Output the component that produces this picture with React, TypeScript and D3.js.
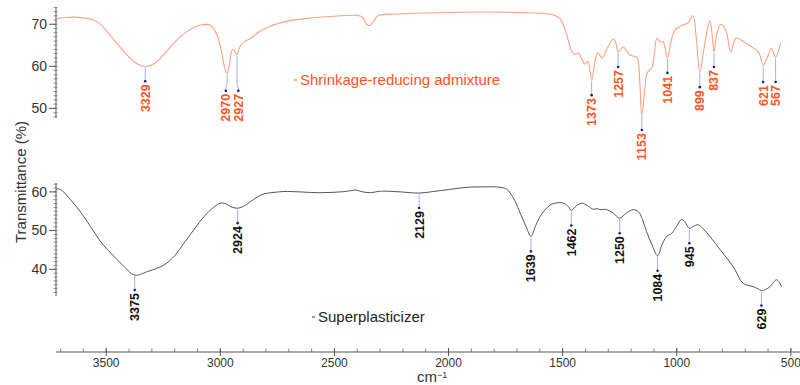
import React from 'react';
import * as d3 from 'd3';

// FTIR spectra: [wavenumber (cm-1), transmittance (%)]
const admixtureSpectrum: [number, number][] = [
  [3720, 71.3], [3680, 71.6], [3640, 71.7], [3600, 71.5], [3565, 71.2], [3530, 70.2],
  [3480, 67.2], [3440, 64.6], [3407, 62.6], [3370, 60.8], [3329, 60.0], [3290, 60.6],
  [3232, 63.8], [3190, 66.3], [3145, 68.3], [3086, 69.8], [3045, 69.8], [3015, 67.5],
  [2995, 63.5], [2980, 59.5], [2970, 58.2], [2960, 60.5], [2950, 63.6], [2942, 64.0],
  [2934, 63.3], [2927, 62.8], [2915, 64.6], [2895, 65.8], [2868, 66.6], [2830, 68.2],
  [2780, 69.6], [2700, 70.8], [2600, 71.5], [2500, 71.9], [2400, 72.1], [2375, 71.6],
  [2360, 70.0], [2345, 69.7], [2330, 70.6], [2310, 72.0], [2250, 72.4], [2150, 72.6],
  [2000, 72.8], [1850, 72.9], [1700, 72.8], [1600, 72.6], [1540, 72.2], [1511, 71.3],
  [1485, 68.0], [1459, 63.4], [1446, 62.8], [1432, 63.2], [1415, 61.6], [1402, 60.5],
  [1389, 61.2], [1373, 56.7], [1357, 61.5], [1345, 63.2], [1327, 62.0], [1300, 64.8],
  [1279, 66.5], [1268, 65.8], [1257, 63.4], [1235, 64.6], [1205, 62.7], [1174, 62.0],
  [1163, 57.0], [1153, 48.4], [1140, 54.5], [1130, 58.4], [1108, 59.8], [1087, 66.7],
  [1073, 65.8], [1060, 65.8], [1041, 62.0], [1025, 66.0], [1008, 68.6], [973, 69.8],
  [951, 70.3], [929, 72.0], [915, 67.0], [899, 58.6], [880, 64.5], [855, 70.8],
  [845, 67.5], [837, 63.4], [825, 67.5], [807, 70.0], [785, 68.6], [763, 63.4],
  [741, 66.7], [697, 65.5], [660, 64.2], [640, 63.2], [621, 60.3], [600, 62.5],
  [586, 64.3], [567, 62.2], [545, 65.5],
];

const superplasticizerSpectrum: [number, number][] = [
  [3720, 60.8], [3700, 60.6], [3655, 57.9], [3610, 54.6], [3568, 51.0], [3520, 46.8],
  [3480, 44.2], [3430, 41.2], [3375, 38.5], [3320, 39.4], [3247, 41.1], [3200, 43.5],
  [3160, 46.7], [3115, 50.3], [3072, 53.6], [3030, 56.0], [2999, 57.1], [2975, 56.9],
  [2955, 56.2], [2924, 55.8], [2895, 56.4], [2868, 57.5], [2840, 58.6], [2809, 59.5],
  [2760, 59.9], [2722, 60.1], [2650, 60.0], [2576, 59.8], [2474, 60.0], [2430, 60.3],
  [2408, 60.5], [2375, 60.0], [2342, 59.8], [2310, 60.1], [2286, 60.2], [2211, 60.0],
  [2129, 59.7], [2067, 60.1], [2000, 60.6], [1919, 61.2], [1850, 61.3], [1774, 61.2],
  [1745, 60.7], [1730, 59.7], [1710, 57.8], [1686, 54.5], [1660, 51.0], [1639, 48.5],
  [1620, 51.0], [1599, 53.6], [1555, 56.6], [1520, 57.2], [1496, 57.1], [1475, 56.2],
  [1462, 55.2], [1440, 56.4], [1416, 57.1], [1390, 56.4], [1365, 55.5], [1350, 55.7],
  [1336, 55.4], [1314, 55.5], [1280, 54.6], [1250, 53.2], [1220, 54.6], [1190, 55.4],
  [1168, 54.9], [1150, 52.8], [1132, 49.7], [1110, 46.5], [1084, 43.5], [1065, 46.3],
  [1044, 48.5], [1022, 49.3], [1000, 51.2], [979, 52.9], [965, 52.3], [957, 51.5],
  [945, 50.6], [930, 51.0], [906, 51.5], [880, 50.2], [855, 48.5], [805, 44.7],
  [753, 40.7], [709, 36.4], [665, 35.5], [645, 35.0], [629, 34.5], [610, 34.8],
  [592, 35.5], [563, 37.3], [550, 36.6], [541, 35.5],
];

const admixturePeaks = [3329, 2970, 2927, 1373, 1257, 1153, 1041, 899, 837, 621, 567];
const superplasticizerPeaks = [3375, 2924, 2129, 1639, 1462, 1250, 1084, 945, 629];

const xTickValues = [3500, 3000, 2500, 2000, 1500, 1000, 500];
const admixtureYTicks = [50, 60, 70];
const superplasticizerYTicks = [40, 50, 60];

const FONT = '"Liberation Sans", Arial, Helvetica, sans-serif';
const ORANGE_LINE = '#f8a286';
const ORANGE_TEXT = '#ff5424';
const GRAY_LINE = '#555555';
const LEADER = '#a9ade8';
const DOT = '#1b2180';

const W = 800;
const H = 385;
const LEFT = 56;
const AXIS_Y = 352;
const MIN_LABEL_GAP = 12.5;

const x = d3.scaleLinear().domain([3720, 460]).range([LEFT, W]);
const yTop = d3.scaleLinear().domain([47.7, 74.1]).range([118, 7]);
const yBottom = d3.scaleLinear().domain([33.1, 62.3]).range([296, 183]);

type Label = { w: number; px: number; py: number; lx: number; dotY: number };

// Peak markers: leader line down from the minimum to a dot, rotated wavenumber under it.
// Close neighbours share the lower dot level and are nudged apart horizontally.
function peakLabels(peaks: number[], data: [number, number][], y: d3.ScaleLinear<number, number>): Label[] {
  const pts = peaks.map((w) => {
    const d = data.find((p) => p[0] === w)!;
    return { w, px: x(w), py: y(d[1]) };
  });
  return pts.map((p) => {
    const group = pts.filter((q) => Math.abs(q.w - p.w) < 60).sort((a, b) => a.px - b.px);
    const level = d3.max(group, (q) => q.py) as number;
    let lx = p.px;
    if (group.length > 1) {
      const span = group[group.length - 1].px - group[0].px;
      if (span < MIN_LABEL_GAP * (group.length - 1)) {
        const centre = (group[0].px + group[group.length - 1].px) / 2;
        const i = group.indexOf(p);
        lx = centre + (i - (group.length - 1) / 2) * MIN_LABEL_GAP;
      }
    }
    return { ...p, lx, dotY: level + (group.length > 1 ? 17 : 15) };
  });
}

function YAxis({ y, ticks, domain }: { y: d3.ScaleLinear<number, number>; ticks: number[]; domain: [number, number] }) {
  const minor = d3.range(Math.ceil(domain[0]), Math.floor(domain[1]) + 1);
  return (
    <g>
      <line x1={LEFT} x2={LEFT} y1={y(domain[0])} y2={y(domain[1])} stroke="#555" strokeWidth={1} />
      {minor.map((v) => (
        <line key={'m' + v} x1={LEFT - 2.5} x2={LEFT + 1.5} y1={y(v)} y2={y(v)} stroke="#777" strokeWidth={0.8} />
      ))}
      {ticks.map((v) => (
        <g key={v}>
          <line x1={LEFT - 7} x2={LEFT} y1={y(v)} y2={y(v)} stroke="#555" strokeWidth={1} />
          <text x={LEFT - 9} y={y(v)} dy="0.35em" textAnchor="end" fontSize={14} fill="#333" fontFamily={FONT}>
            {v}
          </text>
        </g>
      ))}
    </g>
  );
}

function Peaks({ labels, color }: { labels: Label[]; color: string }) {
  return (
    <g>
      {labels.map((l) => {
        const leader =
          l.lx === l.px
            ? `M${l.px},${l.py + 1}V${l.dotY}`
            : `M${l.px},${l.py + 1}V${l.dotY - 7}L${l.lx},${l.dotY - 3}V${l.dotY}`;
        return (
          <g key={l.w}>
            <path d={leader} fill="none" stroke={LEADER} strokeWidth={1} />
            <circle cx={l.lx} cy={l.dotY} r={1.3} fill={DOT} />
            <text
              transform={`translate(${l.lx},${l.dotY + 3}) rotate(-90)`}
              dy="0.36em"
              textAnchor="end"
              fontSize={12.5}
              fontWeight="bold"
              fill={color}
              fontFamily={FONT}
            >
              {l.w}
            </text>
          </g>
        );
      })}
    </g>
  );
}

export default function App() {
  const lineTop = d3
    .line<[number, number]>()
    .x((d) => x(d[0]))
    .y((d) => yTop(d[1]))
    .curve(d3.curveCatmullRom.alpha(0.5));
  const lineBottom = d3
    .line<[number, number]>()
    .x((d) => x(d[0]))
    .y((d) => yBottom(d[1]))
    .curve(d3.curveCatmullRom.alpha(0.5));

  const topLabels = peakLabels(admixturePeaks, admixtureSpectrum, yTop);
  const bottomLabels = peakLabels(superplasticizerPeaks, superplasticizerSpectrum, yBottom);

  const minorX = d3.range(3700, 499, -100);

  return (
    <svg
      width={W}
      height={H}
      viewBox={`0 0 ${W} ${H}`}
      style={{ position: 'absolute', left: 0, top: 0, background: '#fff' }}
      fontFamily={FONT}
    >
      <rect width={W} height={H} fill="#fff" />

      {/* y axes */}
      <YAxis y={yTop} ticks={admixtureYTicks} domain={[47.7, 74.1]} />
      <YAxis y={yBottom} ticks={superplasticizerYTicks} domain={[33.1, 62.3]} />

      <text
        transform={`translate(26,182) rotate(-90)`}
        textAnchor="middle"
        fontSize={15}
        fill="#333"
        fontFamily={FONT}
      >
        Transmittance (%)
      </text>

      {/* x axis */}
      <line x1={LEFT} x2={W} y1={AXIS_Y} y2={AXIS_Y} stroke="#555" strokeWidth={1} />
      {minorX.map((w) => (
        <line key={'xm' + w} x1={x(w)} x2={x(w)} y1={AXIS_Y - 3.5} y2={AXIS_Y} stroke="#666" strokeWidth={0.8} />
      ))}
      {xTickValues.map((w) => (
        <g key={w}>
          <line x1={x(w)} x2={x(w)} y1={AXIS_Y - 4} y2={AXIS_Y + 4} stroke="#555" strokeWidth={1} />
          <text x={x(w)} y={AXIS_Y + 15} textAnchor="middle" fontSize={12} fill="#333" fontFamily={FONT}>
            {w}
          </text>
        </g>
      ))}
      <text x={417} y={382} fontSize={15} fill="#333" fontFamily={FONT}>
        cm
        <tspan dy={-4.5} fontSize={9}>
          −1
        </tspan>
      </text>

      {/* spectra */}
      <path d={lineTop(admixtureSpectrum) || ''} fill="none" stroke={ORANGE_LINE} strokeWidth={1.1} />
      <path d={lineBottom(superplasticizerSpectrum) || ''} fill="none" stroke={GRAY_LINE} strokeWidth={1} />

      <Peaks labels={topLabels} color={ORANGE_TEXT} />
      <Peaks labels={bottomLabels} color="#111" />

      {/* series names */}
      <line x1={294} x2={297} y1={80} y2={80} stroke={ORANGE_TEXT} strokeWidth={1} />
      <text x={300} y={85} fontSize={15} fill={ORANGE_TEXT} fontFamily={FONT}>
        Shrinkage-reducing admixture
      </text>
      <line x1={312} x2={315} y1={317} y2={317} stroke="#333" strokeWidth={1} />
      <text x={318} y={322} fontSize={15} fill="#222" fontFamily={FONT}>
        Superplasticizer
      </text>
    </svg>
  );
}
